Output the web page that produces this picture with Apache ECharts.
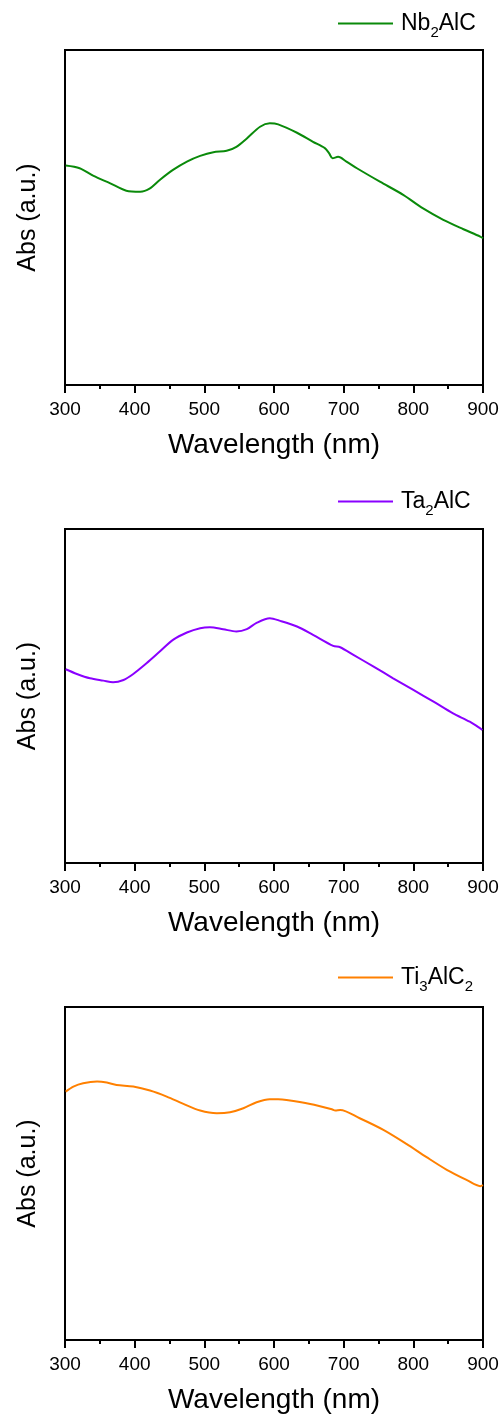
<!DOCTYPE html>
<html><head><meta charset="utf-8">
<script src="https://cdn.jsdelivr.net/npm/echarts@6/dist/echarts.min.js"></script>
<style>html,body{margin:0;padding:0;background:#fff}#c{width:504px;height:1421px}</style>
</head><body><div id="c"></div>
<script>
// ---- data (wavelength nm, absorbance a.u.) ----
var wlNb = [301,321,341,365,388,408,422,436,455,475,494,513,532,546,561,580,594,606,633,656,673,679,684,692,704,719,752,786,814,843,872,896,900];
var absNb = [65.5,64.7,62.4,60.2,58.0,57.7,58.7,61.2,64.2,66.7,68.4,69.5,69.9,71.1,73.6,77.1,78.1,77.8,75.3,72.6,70.7,69.2,67.7,68.1,66.7,64.7,60.7,56.7,52.7,49.3,46.5,44.3,43.8];

var wlTa = [301,317,336,355,369,384,398,417,436,455,475,494,508,527,546,561,575,594,609,633,656,685,695,714,743,771,800,829,857,881,896,899];
var absTa = [58.0,56.6,55.3,54.6,54.1,54.8,56.6,59.8,63.3,66.8,69.0,70.3,70.6,70.0,69.3,70.0,71.9,73.3,72.5,70.8,68.3,65.0,64.6,62.3,58.8,55.3,51.8,48.3,44.8,42.3,40.3,39.8];

var wlTi = [301,312,326,346,360,374,398,422,446,470,494,518,537,556,575,594,606,618,652,683,688,695,723,757,790,819,848,877,896,900];
var absTi = [74.6,76.1,77.1,77.6,77.3,76.6,76.1,74.9,73.1,70.9,68.9,68.1,68.4,69.6,71.4,72.3,72.3,72.1,70.9,69.3,68.9,69.1,66.6,63.1,58.9,54.9,51.1,48.0,46.2,46.5];

var xTicks = [300,400,500,600,700,800,900];
var names = ['Nb2AlC','Ta2AlC','Ti3AlC2'];
var colors = ['#0a8a0a','#8a00ff','#ff8000'];

function pairs(xs, ys){ return xs.map(function(x,i){return [x, ys[i]];}); }

var FONT = 'Liberation Sans, Arial, sans-serif';
var grids = [
  {left:65, width:418, top:50, height:335},
  {left:65, width:418, top:529, height:334},
  {left:65, width:418, top:1007, height:333}
];
var legendTops = [7, 485, 961];
var seriesData = [pairs(wlNb,absNb), pairs(wlTa,absTa), pairs(wlTi,absTi)];

var richStyles = {
  n:{fontSize:23, fontFamily:FONT, color:'#000', lineHeight:28},
  s:{fontSize:15, fontFamily:FONT, color:'#000', lineHeight:28, verticalAlign:'bottom', padding:[0,0,-3,0]}
};
function fmtName(name){
  return name.replace(/(\d)/g, '}{s|$1}{n|').replace(/^/, '{n|').replace(/$/, '}').replace(/\{n\|\}/g,'');
}

var option = {
  animation:false,
  backgroundColor:'#fff',
  grid: grids.map(function(g){ return Object.assign({show:true, borderColor:'#000', borderWidth:2, backgroundColor:'transparent'}, g); }),
  legend: names.map(function(n,i){
    return {data:[n], left:333, top:legendTops[i], icon:'rect', itemWidth:55, itemHeight:2, itemGap:0,
      textStyle:{rich:richStyles, padding:[0,0,0,3]}, formatter:fmtName, selectedMode:false};
  }),
  xAxis: grids.map(function(g,i){
    return {type:'value', gridIndex:i, min:300, max:900, interval:100,
      name:'Wavelength (nm)', nameLocation:'middle', nameGap:46,
      nameTextStyle:{fontSize:28, fontFamily:FONT, color:'#000'},
      axisLine:{show:true, lineStyle:{color:'#000', width:2}},
      axisTick:{show:true, length:8, lineStyle:{color:'#000', width:2}},
      minorTick:{show:true, splitNumber:2, length:4, lineStyle:{color:'#000', width:2}},
      splitLine:{show:false},
      axisLabel:{fontSize:19, fontFamily:FONT, color:'#000', margin:15,
        formatter:function(v){ return xTicks.indexOf(v) >= 0 ? String(v) : ''; }}
    };
  }),
  yAxis: grids.map(function(g,i){
    return {type:'value', gridIndex:i, min:0, max:100,
      name:'Abs (a.u.)', nameLocation:'middle', nameGap:24,
      nameTextStyle:{fontSize:25, fontFamily:FONT, color:'#000'},
      axisLine:{show:true, lineStyle:{color:'#000', width:2}},
      axisTick:{show:false}, axisLabel:{show:false}, splitLine:{show:false}
    };
  }),
  series: names.map(function(n,i){
    return {name:n, type:'line', xAxisIndex:i, yAxisIndex:i, data:seriesData[i],
      showSymbol:false, symbol:'none', smooth:0.3,
      lineStyle:{color:colors[i], width:2}, itemStyle:{color:colors[i]}};
  })
};
echarts.init(document.getElementById('c')).setOption(option);
</script></body></html>
